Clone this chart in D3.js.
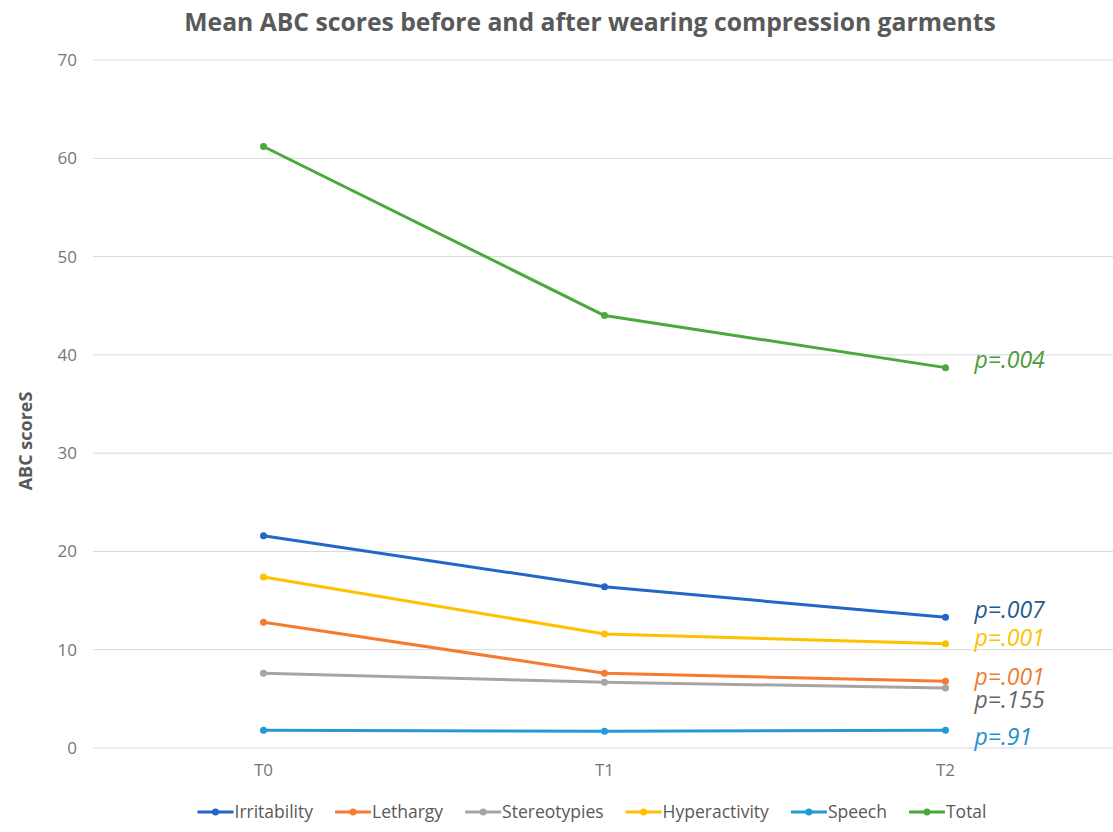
<!DOCTYPE html>
<html>
<head>
<meta charset="utf-8">
<script src="https://cdn.jsdelivr.net/npm/d3@7"></script>
<style>
  html, body { margin: 0; padding: 0; background: #fff; }
  svg { display: block; font-family: "Open Sans", "DejaVu Sans", sans-serif; }
</style>
</head>
<body>
<svg id="chart" width="1113" height="832"></svg>
<script>
const timepoints = ["T0", "T1", "T2"];
const seriesNames = ["Irritability", "Lethargy", "Stereotypies", "Hyperactivity", "Speech", "Total"];
const irritability = [21.6, 16.4, 13.3];
const lethargy = [12.8, 7.6, 6.8];
const stereotypies = [7.6, 6.7, 6.1];
const hyperactivity = [17.4, 11.6, 10.6];
const speech = [1.8, 1.7, 1.8];
const total = [61.2, 44.0, 38.7];
const pValues = ["p=.007", "p=.001", "p=.155", "p=.001", "p=.91", "p=.004"];
const yTicks = [0, 10, 20, 30, 40, 50, 60, 70];

const seriesValues = [irritability, lethargy, stereotypies, hyperactivity, speech, total];
const colors = ["#2266c8", "#f57b30", "#a5a5a5", "#ffc000", "#2399d8", "#4aa83c"];
const pColors = ["#1f5a8c", "#ed7d31", "#666666", "#ffc000", "#1e8fcc", "#4a9a3a"];
const pOffsets = [-7, -4, 12, -6, 7, -8];

const svg = d3.select("#chart");

const x = d3.scaleBand().domain(timepoints).range([93, 1116]);
const y = d3.scaleLinear().domain([0, 70]).range([748, 60]);

// Title
svg.append("text")
  .attr("x", 590).attr("y", 31)
  .attr("text-anchor", "middle")
  .attr("font-size", 24.7).attr("font-weight", "bold")
  .attr("fill", "#595959")
  .text("Mean ABC scores before and after wearing compression garments");

// Gridlines
svg.append("g").selectAll("line").data(yTicks).join("line")
  .attr("x1", 93).attr("x2", 1113)
  .attr("y1", d => y(d)).attr("y2", d => y(d))
  .attr("stroke", "#d9d9d9").attr("stroke-width", 1);

// Y axis
const yAxis = d3.axisLeft(y).tickValues(yTicks).tickSize(0).tickPadding(0);
const gy = svg.append("g").attr("transform", "translate(77,0)").call(yAxis);
gy.select(".domain").remove();
gy.selectAll("text").attr("font-size", 17).attr("fill", "#767676")
  .attr("font-family", "'Open Sans', sans-serif");

// X axis
const xAxis = d3.axisBottom(x).tickSize(0).tickPadding(0);
const gx = svg.append("g").attr("transform", "translate(0,764)").call(xAxis);
gx.select(".domain").remove();
gx.selectAll("text").attr("font-size", 17).attr("fill", "#767676")
  .attr("font-family", "'Open Sans', sans-serif");

// Y axis title
svg.append("text")
  .attr("transform", "translate(32,441) rotate(-90)")
  .attr("text-anchor", "middle")
  .attr("font-size", 18).attr("font-weight", "bold")
  .attr("fill", "#595959")
  .text("ABC scoreS");

// Lines
const line = d3.line()
  .x((d, i) => x(timepoints[i]) + x.bandwidth() / 2)
  .y(d => y(d));

const g = svg.append("g");
seriesValues.forEach((vals, si) => {
  g.append("path").datum(vals)
    .attr("d", line)
    .attr("fill", "none")
    .attr("stroke", colors[si])
    .attr("stroke-width", 3)
    .attr("stroke-linejoin", "round");
  g.selectAll(null).data(vals).join("circle")
    .attr("cx", (d, i) => x(timepoints[i]) + x.bandwidth() / 2)
    .attr("cy", d => y(d))
    .attr("r", 3.5)
    .attr("fill", colors[si]);
  g.append("text")
    .attr("x", x("T2") + x.bandwidth() / 2 + 29)
    .attr("y", y(vals[2]) + pOffsets[si])
    .attr("dy", "0.35em")
    .attr("font-size", 23).attr("font-style", "italic")
    .attr("fill", pColors[si])
    .text(pValues[si]);
});

// Legend
const lg = svg.append("g");
let cursor = 0;
seriesNames.forEach((name, i) => {
  const item = lg.append("g");
  item.append("line").attr("x1", 0).attr("x2", 36).attr("y1", 0).attr("y2", 0)
    .attr("stroke", colors[i]).attr("stroke-width", 3);
  item.append("circle").attr("cx", 18).attr("cy", 0).attr("r", 3.5).attr("fill", colors[i]);
  const t = item.append("text").attr("x", 37).attr("y", 0).attr("dy", "0.35em")
    .attr("font-size", 17.5).attr("fill", "#595959")
    .text(name);
  const w = 37 + t.node().getComputedTextLength();
  item.attr("transform", `translate(${cursor},812)`);
  cursor += w + 22;
});
const totalW = cursor - 22;
lg.attr("transform", `translate(${592 - totalW / 2},0)`);
</script>
</body>
</html>
